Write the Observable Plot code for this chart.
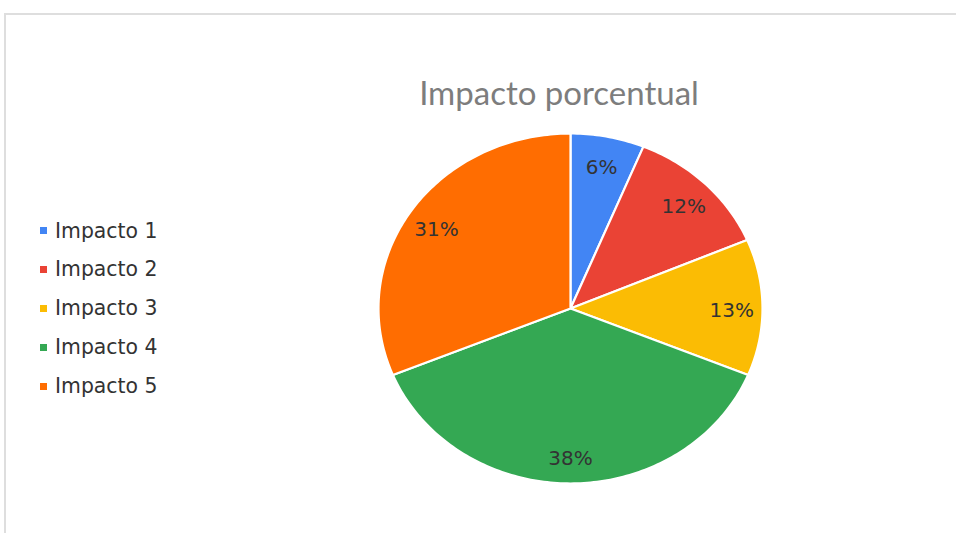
<!DOCTYPE html>
<html>
<head>
<meta charset="utf-8">
<script src="https://cdn.jsdelivr.net/npm/d3@7"></script>
<script src="https://cdn.jsdelivr.net/npm/@observablehq/plot@0.6"></script>
<style>
  html, body { margin: 0; padding: 0; background: #fff; width: 956px; height: 533px; overflow: hidden; }
  #frame { position: absolute; left: 4px; top: 13px; width: 1000px; height: 600px;
           border-top: 2px solid #dedede; border-left: 2px solid #dedede; box-sizing: border-box; }
  #title { position: absolute; left: 359px; width: 400px; top: 76px; text-align: center;
           font-family: Lato, sans-serif; font-size: 33px; line-height: 32px; color: #7d7d7d; white-space: nowrap; font-weight: 400; }
  #legend { position: absolute; left: 40px; top: 0; font-family: "DejaVu Sans", sans-serif; font-size: 20.4px; color: #333; }
  .row { position: absolute; left: 0; height: 22px; display: flex; align-items: center; white-space: nowrap; }
  .sw { width: 7px; height: 7px; margin-right: 8px; flex: none; }
  #chart { position: absolute; left: 0; top: 0; }
</style>
</head>
<body>
<div id="frame"></div>
<div id="title">Impacto porcentual</div>
<div id="legend"></div>
<div id="chart"></div>
<script>
// ---- data ----
const categories = ["Impacto 1", "Impacto 2", "Impacto 3", "Impacto 4", "Impacto 5"];
const values = [6.2, 12.4, 12.6, 37.6, 31.2];
const colors = ["#4285F4", "#EA4335", "#FBBC04", "#34A853", "#FF6D01"];

const data = categories.map((name, i) => ({name, value: values[i]}));
const total = d3.sum(values);
const arcs = d3.pie().value(d => d.value).sort(null).startAngle(0).endAngle(2 * Math.PI)(data);

// polygon points for each slice (unit circle, derived from data angles)
const pts = [];
for (const a of arcs) {
  const n = Math.max(2, Math.ceil((a.endAngle - a.startAngle) / (2 * Math.PI) * 360));
  pts.push({name: a.data.name, x: 0, y: 0});
  for (let k = 0; k <= n; k++) {
    const t = a.startAngle + (a.endAngle - a.startAngle) * k / n;
    pts.push({name: a.data.name, x: Math.sin(t), y: Math.cos(t)});
  }
}
const labelR = 0.84;
const labels = arcs.map(a => {
  const m = (a.startAngle + a.endAngle) / 2;
  return {name: a.data.name, x: labelR * Math.sin(m), y: labelR * Math.cos(m),
          text: Math.round(a.data.value / total * 100) + "%"};
});

const plot = Plot.plot({
  width: 956,
  height: 533,
  margin: 0,
  x: {domain: [-1, 1], range: [378, 762], axis: null},
  y: {domain: [-1, 1], range: [483, 133], axis: null},
  color: {domain: categories, range: colors},
  style: {background: "transparent", overflow: "visible"},
  marks: [
    Plot.line(pts, {x: "x", y: "y", z: "name", fill: "name", stroke: "white",
                    strokeWidth: 2.2, strokeLinejoin: "round", curve: "linear-closed"}),
    Plot.text(labels, {x: "x", y: "y", text: "text", fill: "#333",
                       fontSize: 20, fontFamily: "DejaVu Sans", textAnchor: "middle", dy: 3})
  ]
});
document.getElementById("chart").appendChild(plot);

// legend
const legend = d3.select("#legend");
const rowY = [230.5, 269.3, 308.2, 347.1, 386];
categories.forEach((c, i) => {
  const r = legend.append("div").attr("class", "row").style("top", (rowY[i] - 11) + "px");
  r.append("div").attr("class", "sw").style("background", colors[i]);
  r.append("span").text(c);
});
</script>
</body>
</html>
